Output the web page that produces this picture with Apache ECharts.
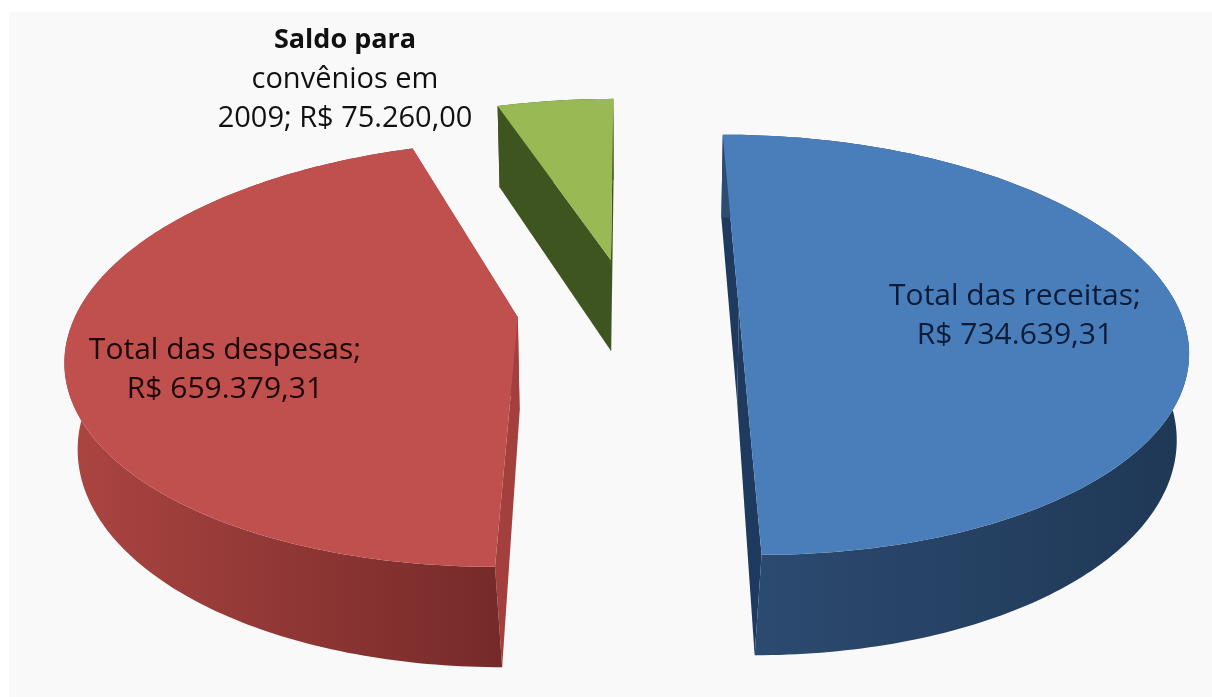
<!DOCTYPE html>
<html>
<head>
<meta charset="utf-8">
<style>html,body{margin:0;padding:0;background:#ffffff}#c{width:1212px;height:697px}</style>
<script src="https://cdn.jsdelivr.net/npm/echarts@6/dist/echarts.min.js"></script>
</head>
<body>
<div id="c"></div>
<script>
// Data
const categories = ['Total das receitas', 'Total das despesas', 'Saldo para convênios em 2009'];
const values = [734639.31, 659379.31, 75260.00];
const labelLines = [
  ['Total das receitas;', 'R$ 734.639,31'],
  ['Total das despesas;', 'R$ 659.379,31'],
  ['Saldo para', 'convênios em', '2009; R$ 75.260,00']
];

// Styles and layout
const topColors = ['#4a7ebb', '#c0504d', '#98b954'];
const sideColors = [['#2d4c72', '#1f3856'], ['#aa4441', '#752a29'], ['#3f5520', '#3f5520']];
const radialColors = ['#1e3a5e', '#a3403d', '#3f5520'];
const labelAnchors = [[1015, 277], [225, 331], [345, 21]];
const labelFills = ['#0c1c38', '#1c0505', '#111111'];
const P = {x0: 628, y0: 309, R: 440, T: 204, k: 0.17, m: 0.985, mFront: 0.037, H: 94, explode: 0.252};

function project(u, v, bottom) {
  const s = 1 / (1 - P.k * v);
  let x = P.x0 + P.R * u * s;
  let y = P.y0 + P.T * v * s;
  if (bottom) {
    const m = P.m - P.mFront * Math.max(0, v);
    x = P.x0 + m * (x - P.x0);
    y = P.y0 + m * (y - P.y0) + P.H * s;
  }
  return [x, y];
}

const total = values.reduce((a, b) => a + b, 0);
const startFractions = values.map((_, i) => values.slice(0, i).reduce((a, b) => a + b, 0) / total);

function renderItem(params, api) {
  const i = params.dataIndex;
  const a0 = startFractions[i] * 2 * Math.PI;
  const a1 = a0 + api.value(0) / total * 2 * Math.PI;
  const mid = (a0 + a1) / 2;
  const ox = P.explode * Math.sin(mid), ov = -P.explode * Math.cos(mid);
  const rim = (a, b) => project(ox + Math.sin(a), ov - Math.cos(a), b);
  const steps = Math.max(8, Math.ceil((a1 - a0) * 60));
  const topArc = [], botArc = [];
  for (let j = 0; j <= steps; j++) {
    const a = a0 + (a1 - a0) * j / steps;
    topArc.push(rim(a, false));
    botArc.push(rim(a, true));
  }
  const apexT = project(ox, ov, false), apexB = project(ox, ov, true);
  const xs = botArc.map(p => p[0]);
  const poly = (points, fill) => ({type: 'polygon', shape: {points}, style: {fill}, silent: true});
  const wallFill = {
    type: 'linear', global: true,
    x: i === 1 ? Math.min(...xs) : Math.max(...xs), y: 0,
    x2: i === 1 ? Math.max(...xs) : Math.min(...xs), y2: 0,
    colorStops: i === 1
      ? [{offset: 0, color: sideColors[i][0]}, {offset: 1, color: sideColors[i][1]}]
      : [{offset: 0, color: sideColors[i][1]}, {offset: 1, color: sideColors[i][0]}]
  };
  const children = [
    poly([topArc[0], apexT, apexB, botArc[0]], radialColors[i]),
    poly([topArc[steps], apexT, apexB, botArc[steps]], radialColors[i]),
    poly(topArc.concat(botArc.slice().reverse()), wallFill),
    poly(topArc.concat([apexT]), topColors[i])
  ];
  const lines = labelLines[i];
  const hasHead = lines.length === 3;
  children.push({
    type: 'text', silent: true, z2: 10,
    x: labelAnchors[i][0], y: labelAnchors[i][1],
    style: {
      text: hasHead
        ? '{b|' + lines[0] + '}\n' + lines.slice(1).map(t => '{n|' + t + '}').join('\n')
        : lines.map(t => '{n|' + t + '}').join('\n'),
      align: 'center', verticalAlign: 'top',
      fill: labelFills[i],
      rich: {
        b: {fontFamily: 'Open Sans', fontSize: 27, fontWeight: 'bold', lineHeight: 39, fill: labelFills[i], align: 'center'},
        n: {fontFamily: 'Open Sans', fontSize: hasHead ? 29 : 30, fontWeight: 500, lineHeight: 39, fill: labelFills[i], align: 'center'}
      }
    }
  });
  return {type: 'group', children};
}

const chart = echarts.init(document.getElementById('c'));
chart.setOption({
  animation: false,
  backgroundColor: '#ffffff',
  graphic: [{type: 'rect', silent: true, z: -10, shape: {x: 9, y: 12, width: 1203, height: 685}, style: {fill: '#f9f9f9'}}],
  series: [{
    type: 'custom',
    coordinateSystem: 'none',
    renderItem,
    data: categories.map((name, i) => ({name, value: [values[i]]}))
  }]
});
</script>
</body>
</html>
